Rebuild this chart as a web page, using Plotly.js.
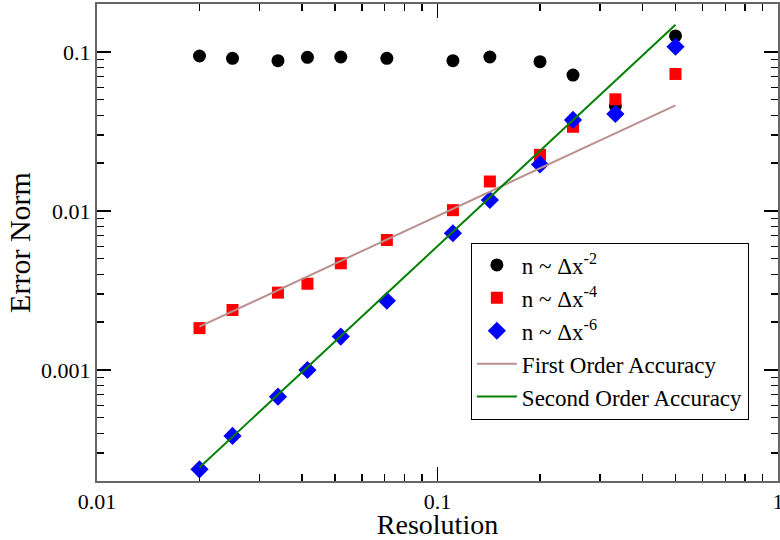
<!DOCTYPE html>
<html>
<head>
<meta charset="utf-8">
<script src="https://cdn.plot.ly/plotly-3.0.1.min.js"></script>
<style>html,body{margin:0;padding:0;background:#fff;}#chart{width:780px;height:540px;}</style>
</head>
<body>
<div id="chart"></div>
<script>
// Resolution values (x)
const resolution = [0.02, 0.025, 0.034, 0.0415, 0.052, 0.071, 0.111, 0.1425, 0.2, 0.25, 0.333, 0.5];
// Error norms per series
const errN2 = [0.0942, 0.0911, 0.088, 0.0924, 0.0928, 0.0911, 0.088, 0.0928, 0.0867, 0.0715, 0.0457, 0.126];
const errN4 = [0.00183, 0.00238, 0.00306, 0.00348, 0.00468, 0.00656, 0.0101, 0.0153, 0.0225, 0.0338, 0.0503, 0.0726];
const errN6 = [0.000237, 0.000384, 0.000678, 0.000998, 0.00162, 0.00272, 0.00723, 0.0117, 0.0196, 0.0373, 0.0407, 0.1077];
// Reference accuracy lines (endpoints)
const refX = [0.02, 0.5];
const firstOrder = [0.00187, 0.0461];
const secondOrder = [0.000243, 0.148];
// Tick labels
const xTickVals = [0.01, 0.1, 1];
const xTickText = ['0.01', '0.1', '1'];
const yTickVals = [0.001, 0.01, 0.1];
const yTickText = ['0.001', '0.01', '0.1'];

const serif = 'Liberation Serif, Times New Roman, serif';

const traces = [
  {x: resolution, y: errN2, mode: 'markers', name: 'n ~ Δx<sup>-2</sup>',
   marker: {symbol: 'circle', color: '#000000', size: 13}},
  {x: resolution, y: errN4, mode: 'markers', name: 'n ~ Δx<sup>-4</sup>',
   marker: {symbol: 'square', color: '#ff0000', size: 12}},
  {x: resolution, y: errN6, mode: 'markers', name: 'n ~ Δx<sup>-6</sup>',
   marker: {symbol: 'diamond', color: '#0000ff', size: 14}},
  {x: refX, y: firstOrder, mode: 'lines', name: 'First Order Accuracy',
   line: {color: '#bc8f8f', width: 2}},
  {x: refX, y: secondOrder, mode: 'lines', name: 'Second Order Accuracy',
   line: {color: '#008000', width: 2}}
];

const axisCommon = {
  type: 'log',
  showgrid: false,
  zeroline: false,
  showline: true,
  linecolor: '#666666',
  linewidth: 2,
  mirror: 'ticks',
  ticks: 'inside',
  ticklen: 14,
  tickwidth: 1.5,
  tickcolor: '#000000',
  ticklabeloverflow: 'allow',
  tickfont: {family: serif, size: 22, color: '#000000'},
  minor: {ticks: 'inside', ticklen: 7, tickwidth: 1.2, tickcolor: '#000000', dtick: 'D1', showgrid: false}
};

const layout = {
  width: 780, height: 540,
  margin: {l: 97, r: 2, t: 4, b: 59},
  paper_bgcolor: '#ffffff', plot_bgcolor: '#ffffff',
  showlegend: true,
  xaxis: Object.assign({}, axisCommon, {
    range: [-2, 0],
    tickvals: xTickVals, ticktext: xTickText,
    title: {text: 'Resolution', font: {family: serif, size: 28, color: '#000000'}, standoff: 8}
  }),
  yaxis: Object.assign({}, axisCommon, {
    range: [Math.log10(0.0002), Math.log10(0.2)],
    tickvals: yTickVals, ticktext: yTickText,
    title: {text: 'Error Norm', font: {family: serif, size: 30, color: '#000000'}, standoff: 2}
  }),
  legend: {
    x: 0.549, y: 0.5, xanchor: 'left', yanchor: 'top',
    bgcolor: '#ffffff', bordercolor: '#000000', borderwidth: 1,
    font: {family: serif, size: 23, color: '#000000'},
    itemwidth: 40,
    tracegroupgap: 0
  }
};

Plotly.newPlot('chart', traces, layout, {displayModeBar: false, staticPlot: true});
</script>
</body>
</html>
